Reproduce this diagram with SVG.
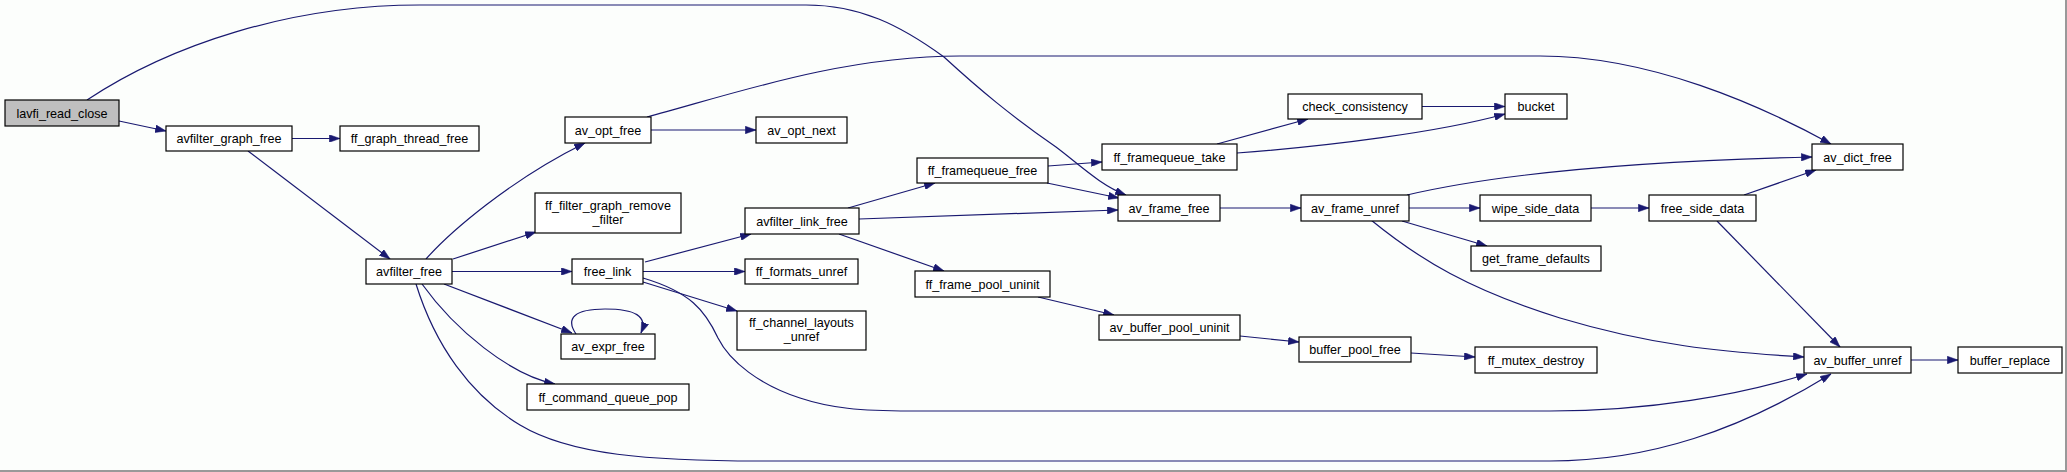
<svg xmlns="http://www.w3.org/2000/svg" width="2067" height="472" viewBox="0 0 2067 472">
<style>
.bg{fill:#fcfefc}
.n rect{fill:#ffffff;stroke:#000000;stroke-width:1.2}
.n.root rect{fill:#bfbfbf}
.n text{font-family:"Liberation Sans",Arial,sans-serif;font-size:12.6px;fill:#000000;text-anchor:middle}
.e path{fill:none;stroke:#191970;stroke-width:1.2;marker-end:url(#arr)}
.frame{stroke:#999999;stroke-width:2;fill:none}
</style>
<defs>
<marker id="arr" viewBox="0 0 10 7" refX="10" refY="3.5" markerWidth="11" markerHeight="7.5" markerUnits="userSpaceOnUse" orient="auto">
<path d="M0,0 L10,3.5 L0,7 z" fill="#191970" stroke="#191970" stroke-width="0.5"/>
</marker>
</defs>
<rect class="bg" x="0" y="0" width="2067" height="472"/>
<path class="frame" d="M2066,0 L2066,471 L0,471"/>

<g id="edges" class="e">
<path d="M119,121 L166,131"/>
<path d="M87,100 C170,45 290,5 420,5 L806,5 C860,5 900,25 944,57 C980,90 1010,115 1056,147 C1080,165 1100,185 1126,195"/>
<path d="M292,138.5 L340,138.5"/>
<path d="M248,151 L390,259"/>
<path d="M426,259 C450,232 510,180 585,143"/>
<path d="M453,259 L536,232"/>
<path d="M452,271.5 L572,271.5"/>
<path d="M444,284 L572,333"/>
<path d="M422,284 C455,330 510,375 555,384"/>
<path d="M416,284 C435,345 470,395 520,425 C570,455 650,461 760,461 L1550,461 C1650,461 1740,430 1831,374"/>
<path d="M576,334 C565,318 575,309 605,309 C635,309 648,316 641,333"/>
<path d="M651,130 L756,130"/>
<path d="M647,117 C730,95 840,56 960,56 L1540,56 C1650,56 1760,105 1831,144"/>
<path d="M645,262 L751,234"/>
<path d="M643,271.5 L745,271.5"/>
<path d="M643,282 L737,311"/>
<path d="M643,278 C690,292 705,310 718,338 C730,362 760,385 800,398 C830,408 860,411 910,411 L1550,411 C1650,411 1740,395 1807,374"/>
<path d="M848,208 L935,183"/>
<path d="M859,219 L1118,210"/>
<path d="M839,234 L944,271"/>
<path d="M1048,166 L1102,162"/>
<path d="M1047,183 L1119,198"/>
<path d="M1217,144 L1308,119"/>
<path d="M1237,153 C1330,146 1440,132 1505,114"/>
<path d="M1422,106.5 L1505,106.5"/>
<path d="M1220,208 L1301,208"/>
<path d="M1407,195 C1480,178 1600,162 1812,157"/>
<path d="M1409,208 L1480,208"/>
<path d="M1402,221 L1487,246"/>
<path d="M1371,220 C1420,260 1470,290 1560,318 C1650,345 1720,352 1804,357"/>
<path d="M1591,208 L1649,208"/>
<path d="M1744,195 L1816,170"/>
<path d="M1717,221 L1840,347"/>
<path d="M1911,360 L1958,360"/>
<path d="M1038,297 L1114,315"/>
<path d="M1240,336 L1299,342"/>
<path d="M1411,353 L1475,357"/>
</g>

<g id="lavfi_read_close" class="n root"><rect x="5" y="100" width="114" height="26"/><text x="62" y="117.5">lavfi_read_close</text></g>
<g id="avfilter_graph_free" class="n"><rect x="166" y="126" width="126" height="25"/><text x="229" y="143">avfilter_graph_free</text></g>
<g id="ff_graph_thread_free" class="n"><rect x="340" y="126" width="139" height="25"/><text x="409.5" y="143">ff_graph_thread_free</text></g>
<g id="av_opt_free" class="n"><rect x="565" y="117" width="86" height="26"/><text x="608" y="134.5">av_opt_free</text></g>
<g id="ff_filter_graph_remove_filter" class="n"><rect x="535" y="193" width="146" height="40"/><text x="608" y="209.5">ff_filter_graph_remove</text><text x="608" y="223.5">_filter</text></g>
<g id="avfilter_free" class="n"><rect x="366" y="259" width="86" height="25"/><text x="409" y="276">avfilter_free</text></g>
<g id="free_link" class="n"><rect x="572" y="259" width="71" height="25"/><text x="607.5" y="276">free_link</text></g>
<g id="av_expr_free" class="n"><rect x="561" y="334" width="94" height="25"/><text x="608" y="351">av_expr_free</text></g>
<g id="ff_command_queue_pop" class="n"><rect x="527" y="384" width="162" height="26"/><text x="608" y="401.5">ff_command_queue_pop</text></g>
<g id="av_opt_next" class="n"><rect x="756" y="117" width="91" height="26"/><text x="801.5" y="134.5">av_opt_next</text></g>
<g id="avfilter_link_free" class="n"><rect x="745" y="208" width="114" height="26"/><text x="802" y="225.5">avfilter_link_free</text></g>
<g id="ff_formats_unref" class="n"><rect x="745" y="259" width="113" height="25"/><text x="801.5" y="276">ff_formats_unref</text></g>
<g id="ff_channel_layouts_unref" class="n"><rect x="737" y="311" width="129" height="39"/><text x="801.5" y="326.5">ff_channel_layouts</text><text x="801.5" y="340.5">_unref</text></g>
<g id="ff_framequeue_free" class="n"><rect x="917" y="158" width="131" height="25"/><text x="982.5" y="175">ff_framequeue_free</text></g>
<g id="ff_frame_pool_uninit" class="n"><rect x="915" y="271" width="135" height="26"/><text x="982.5" y="288.5">ff_frame_pool_uninit</text></g>
<g id="ff_framequeue_take" class="n"><rect x="1102" y="144" width="135" height="26"/><text x="1169.5" y="161.5">ff_framequeue_take</text></g>
<g id="av_frame_free" class="n"><rect x="1118" y="195" width="102" height="26"/><text x="1169" y="212.5">av_frame_free</text></g>
<g id="av_buffer_pool_uninit" class="n"><rect x="1099" y="315" width="141" height="25"/><text x="1169.5" y="332">av_buffer_pool_uninit</text></g>
<g id="check_consistency" class="n"><rect x="1288" y="94" width="134" height="25"/><text x="1355" y="111">check_consistency</text></g>
<g id="av_frame_unref" class="n"><rect x="1301" y="195" width="108" height="26"/><text x="1355" y="212.5">av_frame_unref</text></g>
<g id="buffer_pool_free" class="n"><rect x="1299" y="337" width="112" height="25"/><text x="1355" y="354">buffer_pool_free</text></g>
<g id="bucket" class="n"><rect x="1505" y="94" width="62" height="25"/><text x="1536" y="111">bucket</text></g>
<g id="wipe_side_data" class="n"><rect x="1480" y="195" width="111" height="26"/><text x="1535.5" y="212.5">wipe_side_data</text></g>
<g id="get_frame_defaults" class="n"><rect x="1471" y="246" width="130" height="25"/><text x="1536" y="263">get_frame_defaults</text></g>
<g id="ff_mutex_destroy" class="n"><rect x="1475" y="347" width="122" height="26"/><text x="1536" y="364.5">ff_mutex_destroy</text></g>
<g id="free_side_data" class="n"><rect x="1649" y="195" width="107" height="26"/><text x="1702.5" y="212.5">free_side_data</text></g>
<g id="av_dict_free" class="n"><rect x="1812" y="144" width="91" height="26"/><text x="1857.5" y="161.5">av_dict_free</text></g>
<g id="av_buffer_unref" class="n"><rect x="1804" y="347" width="107" height="26"/><text x="1857.5" y="364.5">av_buffer_unref</text></g>
<g id="buffer_replace" class="n"><rect x="1958" y="347" width="104" height="26"/><text x="2010" y="364.5">buffer_replace</text></g>
</svg>
